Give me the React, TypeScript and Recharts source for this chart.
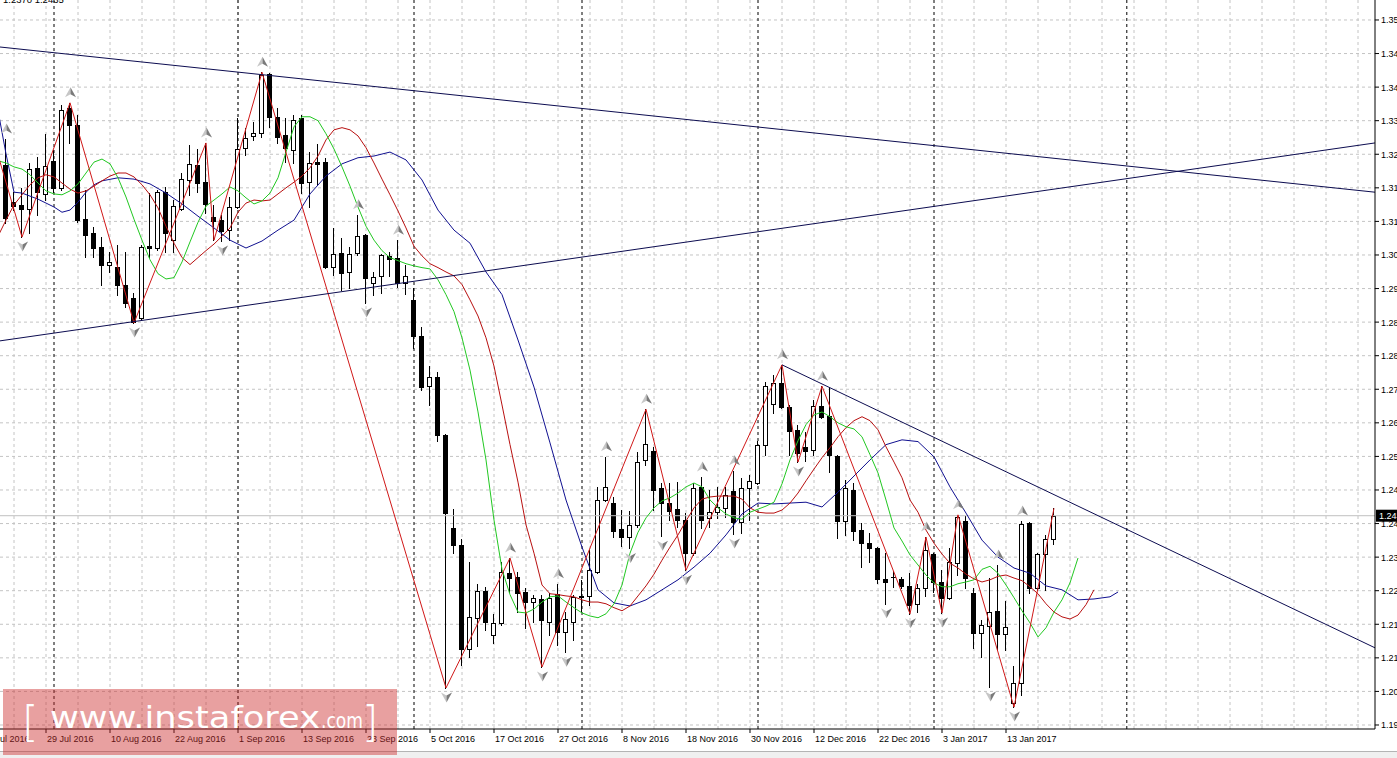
import React from 'react';
import { ComposedChart, Bar, Line, Scatter, XAxis, YAxis, CartesianGrid, ReferenceLine } from 'recharts';

const FONT = '"Liberation Sans", Arial, sans-serif';
const W = 1397;
const H = 758;

// ---- axis / layout values ----
const X_DOMAIN: [number, number] = [-0.75, 171.125];
const Y_DOMAIN: [number, number] = [1.19458, 1.36178];

const dateLabels = ['19 Jul 2016', '29 Jul 2016', '10 Aug 2016', '22 Aug 2016', '1 Sep 2016', '13 Sep 2016', '23 Sep 2016', '5 Oct 2016', '17 Oct 2016', '27 Oct 2016', '8 Nov 2016', '18 Nov 2016', '30 Nov 2016', '12 Dec 2016', '22 Dec 2016', '3 Jan 2017', '13 Jan 2017'];
const dateLabelBars = [-3, 5, 13, 21, 29, 37, 45, 53, 61, 69, 77, 85, 93, 101, 109, 117, 125];
const priceTicks = [1.1955, 1.2032, 1.2109, 1.2186, 1.2263, 1.2340, 1.2417, 1.2494, 1.2571, 1.2648, 1.2725, 1.2802, 1.2879, 1.2956, 1.3033, 1.3110, 1.3187, 1.3264, 1.3341, 1.3418, 1.3495, 1.3572];
const gridBars = [1, 5, 9, 13, 17, 21, 25, 29, 33, 37, 41, 45, 49, 53, 57, 61, 65, 69, 73, 77, 81, 85, 89, 93, 97, 101, 105, 109, 113, 117, 121, 125, 129, 133, 137, 141, 145, 149, 153, 157, 161, 165, 169];
const monthSeparatorBars = [6, 29, 51, 72, 94, 116, 140.1];

// ---- daily candles (bar 0 = 22 Jul 2016) ----
const opens = [1.3240, 1.3154, 1.3148, 1.3138, 1.3233, 1.3173, 1.3249, 1.3187, 1.3371, 1.3332,
  1.3115, 1.3083, 1.3051, 1.3011, 1.3006, 1.2965, 1.2935, 1.2889, 1.3053, 1.3049,
  1.3177, 1.3067, 1.3138, 1.3205, 1.3240, 1.3200, 1.3120, 1.3113, 1.3090, 1.3143,
  1.3279, 1.3306, 1.3313, 1.3448, 1.3350, 1.3309, 1.3274, 1.3348, 1.3200, 1.3246,
  1.3246, 1.3006, 1.3038, 1.2994, 1.3038, 1.3079, 1.2969, 1.2985, 1.3031, 1.3027,
  1.2969, 1.2930, 1.2847, 1.2732, 1.2753, 1.2621, 1.2407, 1.2368, 1.2129, 1.2201,
  1.2263, 1.2162, 1.2189, 1.2303, 1.2294, 1.2260, 1.2237, 1.2244, 1.2191, 1.2256,
  1.2168, 1.2191, 1.2251, 1.2251, 1.2305, 1.2471, 1.2464, 1.2404, 1.2386, 1.2414,
  1.2563, 1.2584, 1.2499, 1.2464, 1.2450, 1.2425, 1.2349, 1.2501, 1.2430, 1.2443,
  1.2453, 1.2492, 1.2420, 1.2499, 1.2510, 1.2598, 1.2691, 1.2739, 1.2684, 1.2632,
  1.2593, 1.2586, 1.2686, 1.2664, 1.2572, 1.2423, 1.2494, 1.2402, 1.2372, 1.2361,
  1.2289, 1.2294, 1.2289, 1.2274, 1.2233, 1.2270, 1.2347, 1.2283, 1.2247, 1.2326,
  1.2423, 1.2258, 1.2166, 1.2182, 1.2217, 1.2164, 1.2005, 1.2051, 1.2418, 1.2270,
  1.2347, 1.2381];
const highs = [1.3299, 1.3177, 1.3187, 1.3244, 1.3258, 1.3311, 1.3274, 1.3378, 1.3382, 1.3355,
  1.3182, 1.3097, 1.3074, 1.3040, 1.3056, 1.3040, 1.2946, 1.3056, 1.3175, 1.3182,
  1.3189, 1.3159, 1.3221, 1.3286, 1.3276, 1.3290, 1.3148, 1.3125, 1.3166, 1.3348,
  1.3325, 1.3338, 1.3452, 1.3450, 1.3371, 1.3348, 1.3355, 1.3355, 1.3269, 1.3288,
  1.3256, 1.3095, 1.3072, 1.3051, 1.3125, 1.3082, 1.2994, 1.3036, 1.3040, 1.3067,
  1.3011, 1.2958, 1.2868, 1.2778, 1.2764, 1.2623, 1.2450, 1.2381, 1.2328, 1.2279,
  1.2272, 1.2210, 1.2328, 1.2338, 1.2305, 1.2270, 1.2254, 1.2254, 1.2258, 1.2279,
  1.2214, 1.2254, 1.2288, 1.2356, 1.2501, 1.2570, 1.2478, 1.2448, 1.2446, 1.2581,
  1.2679, 1.2593, 1.2510, 1.2510, 1.2512, 1.2441, 1.2510, 1.2524, 1.2494, 1.2501,
  1.2501, 1.2538, 1.2522, 1.2529, 1.2607, 1.2741, 1.2758, 1.2781, 1.2689, 1.2644,
  1.2627, 1.2700, 1.2732, 1.2728, 1.2575, 1.2517, 1.2510, 1.2418, 1.2395, 1.2364,
  1.2349, 1.2308, 1.2294, 1.2303, 1.2279, 1.2386, 1.2349, 1.2310, 1.2361, 1.2437,
  1.2434, 1.2270, 1.2196, 1.2292, 1.2322, 1.2240, 1.2090, 1.2423, 1.2420, 1.2349,
  1.2391, 1.2452];
const lows = [1.3106, 1.3136, 1.3074, 1.3083, 1.3125, 1.3159, 1.3177, 1.3182, 1.3290, 1.3108,
  1.3029, 1.3029, 1.2965, 1.2994, 1.2942, 1.2914, 1.2877, 1.2884, 1.3029, 1.3045,
  1.3040, 1.3040, 1.3136, 1.3171, 1.3177, 1.3129, 1.3067, 1.3065, 1.3067, 1.3141,
  1.3263, 1.3297, 1.3304, 1.3327, 1.3290, 1.3246, 1.3244, 1.3175, 1.3143, 1.3194,
  1.3004, 1.2988, 1.2953, 1.2958, 1.3034, 1.2923, 1.2942, 1.2946, 1.2985, 1.2960,
  1.2944, 1.2820, 1.2723, 1.2689, 1.2607, 1.2040, 1.2349, 1.2093, 1.2111, 1.2136,
  1.2173, 1.2143, 1.2185, 1.2260, 1.2214, 1.2178, 1.2191, 1.2088, 1.2162, 1.2139,
  1.2122, 1.2150, 1.2214, 1.2231, 1.2303, 1.2469, 1.2386, 1.2365, 1.2360, 1.2409,
  1.2552, 1.2448, 1.2388, 1.2425, 1.2409, 1.2310, 1.2345, 1.2407, 1.2409, 1.2430,
  1.2432, 1.2393, 1.2395, 1.2425, 1.2508, 1.2575, 1.2671, 1.2682, 1.2575, 1.2558,
  1.2561, 1.2575, 1.2660, 1.2535, 1.2384, 1.2391, 1.2379, 1.2317, 1.2328, 1.2281,
  1.2233, 1.2272, 1.2270, 1.2210, 1.2214, 1.2251, 1.2260, 1.2212, 1.2244, 1.2299,
  1.2270, 1.2132, 1.2111, 1.2042, 1.2127, 1.2127, 1.1996, 1.2024, 1.2258, 1.2265,
  1.2265, 1.2370];
const closes = [1.3118, 1.3145, 1.3138, 1.3230, 1.3177, 1.3237, 1.3187, 1.3366, 1.3332, 1.3113,
  1.3079, 1.3049, 1.3011, 1.3017, 1.2965, 1.2923, 1.2879, 1.3051, 1.3049, 1.3177,
  1.3083, 1.3145, 1.3207, 1.3242, 1.3198, 1.3150, 1.3111, 1.3088, 1.3143, 1.3276,
  1.3302, 1.3313, 1.3446, 1.3350, 1.3304, 1.3279, 1.3343, 1.3198, 1.3244, 1.3242,
  1.3006, 1.3036, 1.2992, 1.3036, 1.3076, 1.2981, 1.2983, 1.3034, 1.3024, 1.2969,
  1.2985, 1.2847, 1.2730, 1.2753, 1.2621, 1.2441, 1.2368, 1.2129, 1.2203, 1.2263,
  1.2191, 1.2189, 1.2305, 1.2292, 1.2258, 1.2237, 1.2247, 1.2196, 1.2247, 1.2168,
  1.2198, 1.2249, 1.2249, 1.2310, 1.2471, 1.2501, 1.2400, 1.2386, 1.2414, 1.2558,
  1.2600, 1.2494, 1.2464, 1.2446, 1.2425, 1.2349, 1.2499, 1.2425, 1.2443, 1.2455,
  1.2483, 1.2420, 1.2499, 1.2515, 1.2598, 1.2732, 1.2739, 1.2684, 1.2630, 1.2579,
  1.2584, 1.2686, 1.2662, 1.2575, 1.2423, 1.2499, 1.2400, 1.2372, 1.2361, 1.2289,
  1.2283, 1.2295, 1.2274, 1.2231, 1.2270, 1.2356, 1.2283, 1.2247, 1.2328, 1.2432,
  1.2292, 1.2166, 1.2185, 1.2214, 1.2164, 1.2180, 1.2051, 1.2417, 1.2270, 1.2347,
  1.2381, 1.2435];

// ---- Alligator lines ----
const jaw: [number, number][] = [[-1, 1.3364], [0, 1.3265], [1, 1.3177], [2, 1.3175], [4, 1.3161], [6, 1.3143], [7, 1.3131], [8, 1.3136], [9, 1.3154], [10, 1.3177], [11, 1.3194], [12, 1.3203], [14, 1.3210], [16, 1.3207], [18, 1.3196], [20, 1.3175], [22, 1.3150], [24, 1.3122], [26, 1.3095], [28, 1.3067], [30, 1.3049], [32, 1.3065], [34, 1.3090], [36, 1.3113], [38, 1.3173], [40, 1.3214], [42, 1.3242], [44, 1.3256], [46, 1.3260], [48, 1.3269], [50, 1.3251], [52, 1.3205], [54, 1.3136], [56, 1.3090], [58, 1.3060], [60, 1.2994], [62, 1.2942], [64, 1.2838], [66, 1.2730], [68, 1.2602], [70, 1.2471], [72, 1.2363], [74, 1.2265], [76, 1.2235], [78, 1.2228], [80, 1.2242], [82, 1.2265], [84, 1.2288], [86, 1.2317], [88, 1.2349], [90, 1.2391], [92, 1.2439], [94, 1.2464], [96, 1.2462], [98, 1.2464], [100, 1.2466], [102, 1.2455], [104, 1.2489], [106, 1.2526], [108, 1.2563], [110, 1.2598], [112, 1.2609], [114, 1.2605], [116, 1.2570], [118, 1.2501], [120, 1.2441], [122, 1.2379], [124, 1.2340], [126, 1.2315], [128, 1.2303], [130, 1.2274], [132, 1.2265], [134, 1.2242], [136, 1.2244], [138, 1.2249], [139, 1.2260]];

const teethFirstBar = -1;
const teeth = [1.3076, 1.3113, 1.3148, 1.3171, 1.3194, 1.3210, 1.3217, 1.3212, 1.3198, 1.3184,
  1.3175, 1.3180, 1.3191, 1.3203, 1.3214, 1.3221, 1.3221, 1.3212, 1.3194, 1.3171,
  1.3141, 1.3099, 1.3060, 1.3027, 1.3011, 1.3027, 1.3043, 1.3058, 1.3076, 1.3095,
  1.3131, 1.3152, 1.3159, 1.3157, 1.3159, 1.3173, 1.3187, 1.3200, 1.3214, 1.3233,
  1.3260, 1.3297, 1.3320, 1.3325, 1.3320, 1.3306, 1.3279, 1.3244, 1.3207, 1.3171,
  1.3134, 1.3095, 1.3053, 1.3031, 1.3013, 1.3004, 1.2994, 1.2985, 1.2965, 1.2930,
  1.2893, 1.2843, 1.2778, 1.2689, 1.2598, 1.2512, 1.2414, 1.2349, 1.2276, 1.2256,
  1.2254, 1.2251, 1.2249, 1.2242, 1.2237, 1.2237, 1.2233, 1.2224, 1.2217, 1.2228,
  1.2251, 1.2274, 1.2301, 1.2333, 1.2363, 1.2391, 1.2423, 1.2453, 1.2473, 1.2478,
  1.2480, 1.2480, 1.2480, 1.2473, 1.2453, 1.2443, 1.2441, 1.2441, 1.2448, 1.2464,
  1.2487, 1.2515, 1.2542, 1.2568, 1.2591, 1.2616, 1.2637, 1.2653, 1.2662, 1.2653,
  1.2632, 1.2593, 1.2558, 1.2522, 1.2471, 1.2443, 1.2402, 1.2372, 1.2347, 1.2326,
  1.2315, 1.2301, 1.2290, 1.2283, 1.2288, 1.2296, 1.2299, 1.2292, 1.2286, 1.2272,
  1.2256, 1.2233, 1.2214, 1.2203, 1.2198, 1.2207, 1.2231, 1.2265];

const lipsFirstBar = -1;
const lips = [1.3249, 1.3244, 1.3235, 1.3230, 1.3217, 1.3198, 1.3180, 1.3173, 1.3171, 1.3180,
  1.3196, 1.3221, 1.3246, 1.3253, 1.3242, 1.3210, 1.3166, 1.3115, 1.3067, 1.3022,
  1.2990, 1.2978, 1.2981, 1.3017, 1.3063, 1.3108, 1.3145, 1.3159, 1.3173, 1.3189,
  1.3180, 1.3164, 1.3150, 1.3157, 1.3175, 1.3210, 1.3269, 1.3327, 1.3350, 1.3350,
  1.3341, 1.3311, 1.3276, 1.3235, 1.3191, 1.3143, 1.3099, 1.3067, 1.3043, 1.3027,
  1.3020, 1.3013, 1.3008, 1.3004, 1.3001, 1.2976, 1.2942, 1.2903, 1.2843, 1.2769,
  1.2673, 1.2563, 1.2425, 1.2312, 1.2254, 1.2214, 1.2212, 1.2221, 1.2237, 1.2249,
  1.2251, 1.2237, 1.2224, 1.2212, 1.2205, 1.2201, 1.2210, 1.2233, 1.2276, 1.2349,
  1.2397, 1.2430, 1.2453, 1.2469, 1.2476, 1.2487, 1.2501, 1.2510, 1.2501, 1.2471,
  1.2453, 1.2439, 1.2430, 1.2427, 1.2443, 1.2450, 1.2457, 1.2466, 1.2508, 1.2563,
  1.2607, 1.2644, 1.2666, 1.2673, 1.2662, 1.2648, 1.2639, 1.2634, 1.2616, 1.2575,
  1.2533, 1.2471, 1.2407, 1.2377, 1.2345, 1.2322, 1.2299, 1.2281, 1.2272, 1.2272,
  1.2279, 1.2283, 1.2288, 1.2312, 1.2319, 1.2303, 1.2276, 1.2247, 1.2217, 1.2189,
  1.2157, 1.2178, 1.2214, 1.2242, 1.2281, 1.2338];

// ---- ZigZag vertices and fractals ----
const zigzag: [number, number][] = [[-2, 1.3325], [2, 1.3074], [8, 1.3382], [16, 1.2877], [25, 1.3290], [26, 1.3067], [32, 1.3452], [55, 1.2040], [63, 1.2338], [67, 1.2088], [80, 1.2679], [85, 1.2310], [97, 1.2781], [99, 1.2558], [102, 1.2732], [113, 1.2210], [115, 1.2386], [117, 1.2212], [119, 1.2437], [126, 1.1996], [131, 1.2452]];
const upFractalBars = [0, 8, 25, 32, 44, 49, 63, 69, 75, 80, 87, 91, 97, 102, 115, 119, 124, 127];
const downFractalBars = [2, 16, 27, 45, 55, 67, 70, 78, 82, 85, 91, 99, 110, 113, 117, 123, 126];

// ---- trend lines (bar, price) ----
const trendUpperStart: [number, number] = [-0.75, 1.3510];
const trendUpperEnd: [number, number] = [171.125, 1.3177];
const trendLowerStart: [number, number] = [-0.75, 1.2836];
const trendLowerEnd: [number, number] = [171.125, 1.3290];
const trendShortStart: [number, number] = [97, 1.2781];
const trendShortEnd: [number, number] = [171.125, 1.2132];

const lastIdx = closes.length - 1;
const lastClose = closes[lastIdx];

const candleRows = opens.map((o, i) => ({ x: i, o, h: highs[i], l: lows[i], c: closes[i], range: [lows[i], highs[i]] }));
const jawRows = jaw.map(([x, y]) => ({ x, y }));
const teethRows = teeth.map((y, k) => ({ x: teethFirstBar + k, y }));
const lipsRows = lips.map((y, k) => ({ x: lipsFirstBar + k, y }));
const zigzagRows = zigzag.map(([x, y]) => ({ x, y }));
const upRows = upFractalBars.map((i) => ({ x: i, y: highs[i] }));
const downRows = downFractalBars.map((i) => ({ x: i, y: lows[i] }));

function CandleShape(props: any) {
  const { x, y, width, height, payload } = props;
  if (x == null || y == null || !payload) return null;
  const { o, h, l, c } = payload;
  const top = Math.min(y, y + height);
  const span = Math.abs(height);
  const ppu = span / Math.max(h - l, 1e-9);
  const py = (v: number) => top + (h - v) * ppu;
  const cx = Math.floor(x + width / 2) + 0.5;
  const bTop = Math.round(py(Math.max(o, c))) + 0.5;
  const bBot = Math.round(py(Math.min(o, c))) + 0.5;
  const bull = c >= o;
  return (
    <g>
      <line x1={cx} x2={cx} y1={Math.round(top)} y2={Math.round(top + span) + 1} stroke="#000" strokeWidth={1} />
      {bBot - bTop < 1 ? (
        <line x1={cx - 2.5} x2={cx + 2.5} y1={bTop} y2={bTop} stroke="#000" strokeWidth={1} />
      ) : (
        <rect x={cx - 2} y={bTop} width={4} height={bBot - bTop} fill={bull ? '#fff' : '#000'} stroke="#000" strokeWidth={1} />
      )}
    </g>
  );
}

function UpFractal(props: any) {
  const { cx, cy } = props;
  if (cx == null || cy == null) return null;
  const x = Math.round(cx) + 0.5;
  const y = cy - 10.5;
  return (
    <g>
      <polygon points={`${x},${y - 5} ${x},${y + 2} ${x - 5.5},${y + 5}`} fill="#c6c6c6" />
      <polygon points={`${x},${y - 5} ${x + 5.5},${y + 5} ${x},${y + 2}`} fill="#7a7a7a" />
    </g>
  );
}

function DownFractal(props: any) {
  const { cx, cy } = props;
  if (cx == null || cy == null) return null;
  const x = Math.round(cx) + 0.5;
  const y = cy + 9.5;
  return (
    <g>
      <polygon points={`${x},${y + 5} ${x},${y - 2} ${x - 5.5},${y - 5}`} fill="#c6c6c6" />
      <polygon points={`${x},${y + 5} ${x + 5.5},${y - 5} ${x},${y - 2}`} fill="#7a7a7a" />
    </g>
  );
}

function DateTick(props: any) {
  const { x, y, payload } = props;
  const k = dateLabelBars.indexOf(payload.value);
  if (k < 0) return null;
  return (
    <text x={x + 1} y={y + 9} fontSize={9} fontFamily={FONT} fill="#000" textAnchor="start">
      {dateLabels[k]}
    </text>
  );
}

function PriceTick(props: any) {
  const { x, y, payload } = props;
  return (
    <text x={x} y={y + 3.5} fontSize={9} fontFamily={FONT} fill="#000" textAnchor="start">
      {Number(payload.value).toFixed(4)}
    </text>
  );
}

function PriceTag(props: any) {
  const vb = props.viewBox || {};
  const x = (vb.x || 0) + (vb.width || 0);
  const y = vb.y || 0;
  return (
    <g>
      <rect x={x + 1} y={y - 6} width={24} height={12} fill="#000" />
      <text x={x + 4} y={y + 3.5} fontSize={9} fontFamily={FONT} fill="#fff">
        {lastClose.toFixed(4)}
      </text>
    </g>
  );
}

export default function App() {
  return (
    <div style={{ position: 'absolute', left: 0, top: 0, width: W, height: H, background: '#fff', overflow: 'hidden' }}>
      <ComposedChart width={W} height={H} data={candleRows} margin={{ top: 0, right: 0, bottom: 0, left: 0 }}>
        <CartesianGrid verticalValues={gridBars} horizontalValues={priceTicks} stroke="#c4c4c4" strokeDasharray="3 3" />
        <CartesianGrid verticalValues={monthSeparatorBars} horizontal={false} stroke="#000" strokeDasharray="3 3" />
        <XAxis
          type="number"
          dataKey="x"
          domain={X_DOMAIN}
          allowDataOverflow
          ticks={dateLabelBars}
          interval={0}
          height={29}
          tickSize={4}
          tickMargin={0}
          axisLine={{ stroke: '#000' }}
          tickLine={{ stroke: '#000' }}
          tick={<DateTick />}
        />
        <YAxis
          type="number"
          orientation="right"
          domain={Y_DOMAIN}
          allowDataOverflow
          ticks={priceTicks}
          interval={0}
          width={22}
          tickSize={4}
          tickMargin={2}
          axisLine={{ stroke: '#000' }}
          tickLine={{ stroke: '#000' }}
          tick={<PriceTick />}
        />
        <ReferenceLine y={lastClose} stroke="#c0c0c0" label={<PriceTag />} />
        <Bar dataKey="range" barSize={5} shape={<CandleShape />} isAnimationActive={false} />
        <Line data={jawRows} dataKey="y" type="linear" stroke="#101090" strokeWidth={1} dot={false} activeDot={false} isAnimationActive={false} />
        <Line data={teethRows} dataKey="y" type="linear" stroke="#b81010" strokeWidth={1} dot={false} activeDot={false} isAnimationActive={false} />
        <Line data={lipsRows} dataKey="y" type="linear" stroke="#22c822" strokeWidth={1} dot={false} activeDot={false} isAnimationActive={false} />
        <Line data={zigzagRows} dataKey="y" type="linear" stroke="#d01818" strokeWidth={1} dot={false} activeDot={false} isAnimationActive={false} />
        <Scatter data={upRows} dataKey="y" shape={<UpFractal />} isAnimationActive={false} />
        <Scatter data={downRows} dataKey="y" shape={<DownFractal />} isAnimationActive={false} />
        <ReferenceLine segment={[{ x: trendUpperStart[0], y: trendUpperStart[1] }, { x: trendUpperEnd[0], y: trendUpperEnd[1] }]} stroke="#0c0c50" ifOverflow="visible" />
        <ReferenceLine segment={[{ x: trendLowerStart[0], y: trendLowerStart[1] }, { x: trendLowerEnd[0], y: trendLowerEnd[1] }]} stroke="#0c0c50" ifOverflow="visible" />
        <ReferenceLine segment={[{ x: trendShortStart[0], y: trendShortStart[1] }, { x: trendShortEnd[0], y: trendShortEnd[1] }]} stroke="#0c0c50" ifOverflow="visible" />
      </ComposedChart>
      <svg width={W} height={H} style={{ position: 'absolute', left: 0, top: 0, pointerEvents: 'none' }}>
        <text x={3} y={3} fontSize={9.5} fontFamily={FONT} fill="#000">
          {`${lows[lastIdx].toFixed(4)} ${lastClose.toFixed(4)}`}
        </text>
        <line x1={0} x2={W} y1={751.5} y2={751.5} stroke="#b4b4b4" />
        <rect x={0} y={752} width={W} height={6} fill="#f0f0f0" />
        <rect x={3} y={689} width={394} height={66} fill="rgb(205,45,45)" fillOpacity={0.45} />
        <g fill="#fff" fontFamily='"DejaVu Sans", sans-serif'>
          <text x={22} y={737} fontSize={42} fontWeight={200}>[</text>
          <text x={50} y={728} fontSize={31} textLength={270} lengthAdjust="spacingAndGlyphs">www.instaforex</text>
          <text x={321} y={728} fontSize={22} textLength={42} lengthAdjust="spacingAndGlyphs">.com</text>
          <text x={362} y={737} fontSize={42} fontWeight={200}>]</text>
        </g>
      </svg>
    </div>
  );
}
